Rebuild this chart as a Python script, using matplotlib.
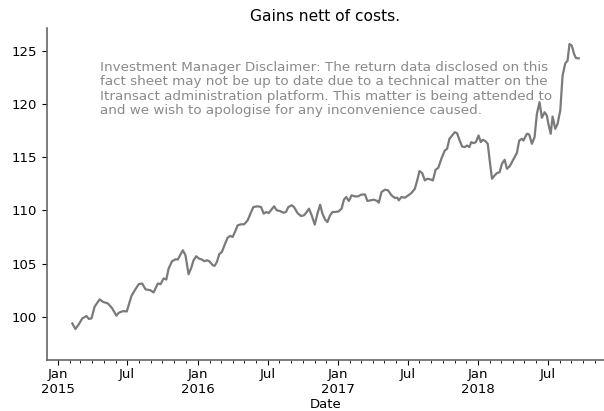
import pandas as pd
import matplotlib
matplotlib.use("Agg")
import matplotlib.pyplot as plt
import matplotlib.dates as mdates

# values
dates = ["2015-02-08", "2015-02-16", "2015-02-25", "2015-03-06", "2015-03-17", "2015-03-23",
         "2015-03-30", "2015-04-07", "2015-04-20", "2015-04-29", "2015-05-12", "2015-05-23",
         "2015-06-03", "2015-06-09", "2015-06-20", "2015-06-30", "2015-07-12", "2015-07-20",
         "2015-07-31", "2015-08-09", "2015-08-18", "2015-08-30", "2015-09-08", "2015-09-19",
         "2015-09-26", "2015-10-04", "2015-10-11", "2015-10-17", "2015-10-26", "2015-11-04",
         "2015-11-10", "2015-11-16", "2015-11-23", "2015-11-30", "2015-12-08", "2015-12-15",
         "2015-12-21", "2015-12-28", "2016-01-04", "2016-01-12", "2016-01-18", "2016-01-25",
         "2016-01-31", "2016-02-09", "2016-02-14", "2016-02-20", "2016-02-26", "2016-03-04",
         "2016-03-13", "2016-03-19", "2016-03-26", "2016-04-01", "2016-04-08", "2016-04-14",
         "2016-04-23", "2016-05-01", "2016-05-10", "2016-05-19", "2016-05-25", "2016-06-05",
         "2016-06-14", "2016-06-21", "2016-06-27", "2016-07-04", "2016-07-11", "2016-07-18",
         "2016-07-25", "2016-08-02", "2016-08-11", "2016-08-18", "2016-08-24", "2016-09-02",
         "2016-09-08", "2016-09-17", "2016-09-26", "2016-10-04", "2016-10-11", "2016-10-17",
         "2016-10-24", "2016-11-01", "2016-11-08", "2016-11-15", "2016-11-21", "2016-11-28",
         "2016-12-04", "2016-12-11", "2016-12-17", "2016-12-26", "2017-01-02", "2017-01-10",
         "2017-01-16", "2017-01-22", "2017-01-29", "2017-02-05", "2017-02-14", "2017-02-22",
         "2017-03-02", "2017-03-12", "2017-03-18", "2017-03-27", "2017-04-04", "2017-04-13",
         "2017-04-17", "2017-04-24", "2017-05-03", "2017-05-11", "2017-05-20", "2017-05-29",
         "2017-06-04", "2017-06-08", "2017-06-15", "2017-06-24", "2017-07-03", "2017-07-11",
         "2017-07-20", "2017-07-26", "2017-08-01", "2017-08-08", "2017-08-15", "2017-08-21",
         "2017-08-30", "2017-09-05", "2017-09-12", "2017-09-19", "2017-09-27", "2017-10-06",
         "2017-10-12", "2017-10-18", "2017-10-25", "2017-11-01", "2017-11-07", "2017-11-13",
         "2017-11-20", "2017-11-27", "2017-12-03", "2017-12-09", "2017-12-14", "2017-12-20",
         "2017-12-26", "2018-01-02", "2018-01-08", "2018-01-13", "2018-01-20", "2018-01-26",
         "2018-01-31", "2018-02-06", "2018-02-13", "2018-02-19", "2018-02-26", "2018-03-04",
         "2018-03-11", "2018-03-17", "2018-03-24", "2018-03-30", "2018-04-06", "2018-04-12",
         "2018-04-18", "2018-04-25", "2018-04-29", "2018-05-08", "2018-05-14", "2018-05-21",
         "2018-05-28", "2018-06-03", "2018-06-10", "2018-06-16", "2018-06-23", "2018-06-29",
         "2018-07-03", "2018-07-09", "2018-07-14", "2018-07-21", "2018-07-27", "2018-08-03",
         "2018-08-09", "2018-08-16", "2018-08-22", "2018-08-27", "2018-09-02", "2018-09-08",
         "2018-09-13", "2018-09-20"]
gains = [99.38, 98.85, 99.3, 99.85, 100.07, 99.8,
         99.85, 100.94, 101.63, 101.4, 101.25, 100.79,
         100.1, 100.38, 100.53, 100.5, 101.94, 102.44,
         103.06, 103.13, 102.57, 102.5, 102.29, 103.13,
         103.06, 103.6, 103.5, 104.53, 105.22, 105.4,
         105.38, 105.78, 106.25, 105.78, 104.0, 104.59,
         105.31, 105.69, 105.47, 105.38, 105.22, 105.31,
         105.22, 104.85, 104.78, 105.16, 105.88, 106.1,
         106.94, 107.44, 107.6, 107.5, 108.06, 108.59,
         108.69, 108.69, 109.06, 109.84, 110.31, 110.38,
         110.31, 109.69, 109.84, 109.75, 110.06, 110.38,
         110.0, 109.94, 109.78, 109.84, 110.31, 110.47,
         110.31, 109.75, 109.47, 109.53, 109.84, 110.16,
         109.53, 108.66, 109.69, 110.53, 109.69, 109.13,
         108.9, 109.53, 109.84, 109.85, 109.9, 110.16,
         111.0, 111.25, 110.88, 111.41, 111.31, 111.31,
         111.47, 111.5, 110.88, 110.94, 111.0, 110.88,
         110.72, 111.72, 111.94, 111.88, 111.41, 111.16,
         111.19, 110.94, 111.25, 111.19, 111.41, 111.63,
         112.03, 112.81, 113.69, 113.5, 112.81, 112.97,
         112.9, 112.81, 113.81, 114.0, 114.84, 115.63,
         115.78, 116.72, 117.03, 117.34, 117.25, 116.63,
         116.0, 115.94, 116.09, 115.94, 116.41, 116.31,
         116.41, 117.03, 116.41, 116.63, 116.5, 116.25,
         114.69, 112.97, 113.28, 113.5, 113.59, 114.38,
         114.75, 113.91, 114.13, 114.53, 115.0, 115.4,
         116.56, 116.72, 116.56, 117.19, 117.13, 116.25,
         116.88, 119.06, 120.16, 118.69, 119.22, 118.91,
         118.13, 117.19, 118.81, 117.66, 118.13, 119.38,
         122.66, 123.81, 124.06, 125.63, 125.47, 124.69,
         124.31, 124.28]

disclaimer = ("Investment Manager Disclaimer: The return data disclosed on this\n"
              "fact sheet may not be up to date due to a technical matter on the\n"
              "Itransact administration platform. This matter is being attended to\n"
              "and we wish to apologise for any inconvenience caused.")

df = pd.DataFrame({"Date": pd.to_datetime(dates), "Gains": gains}).set_index("Date")

fig = plt.figure(figsize=(6.04, 4.11), dpi=100)
ax = fig.add_axes([47 / 604, 51 / 411, 557 / 604, 332 / 411])

ax.plot(df.index, df["Gains"], color="#7a7a7a", linewidth=1.6)
ax.set_ylim(95.94, 127.13)

#pandas style date ticks
ax.xaxis.set_major_locator(mdates.MonthLocator(bymonth=[1, 7]))
ax.xaxis.set_minor_locator(mdates.MonthLocator())
fmt = lambda x, pos: mdates.num2date(x).strftime("%b\n%Y") if mdates.num2date(x).month == 1 else mdates.num2date(x).strftime("%b")
ax.xaxis.set_major_formatter(plt.FuncFormatter(fmt))
ax.set_yticks([100, 105, 110, 115, 120, 125])
ax.tick_params(labelsize=9.5)
ax.tick_params(axis="x", pad=2.5)

for s in ["top", "right"]:
    ax.spines[s].set_visible(False)
for s in ["left", "bottom"]:
    ax.spines[s].set_color("#666666")
    ax.spines[s].set_linewidth(1.2)

ax.set_xlabel("Date", fontsize=9.5, labelpad=1)
ax.set_title("Gains nett of costs.", fontsize=11.2, pad=5)
ax.text(0.095, 0.9, disclaimer, transform=ax.transAxes, va="top", ha="left",
        color="#8a8a8a", fontsize=9.7, linespacing=1.13)

fig.savefig("out.png", dpi=100)
